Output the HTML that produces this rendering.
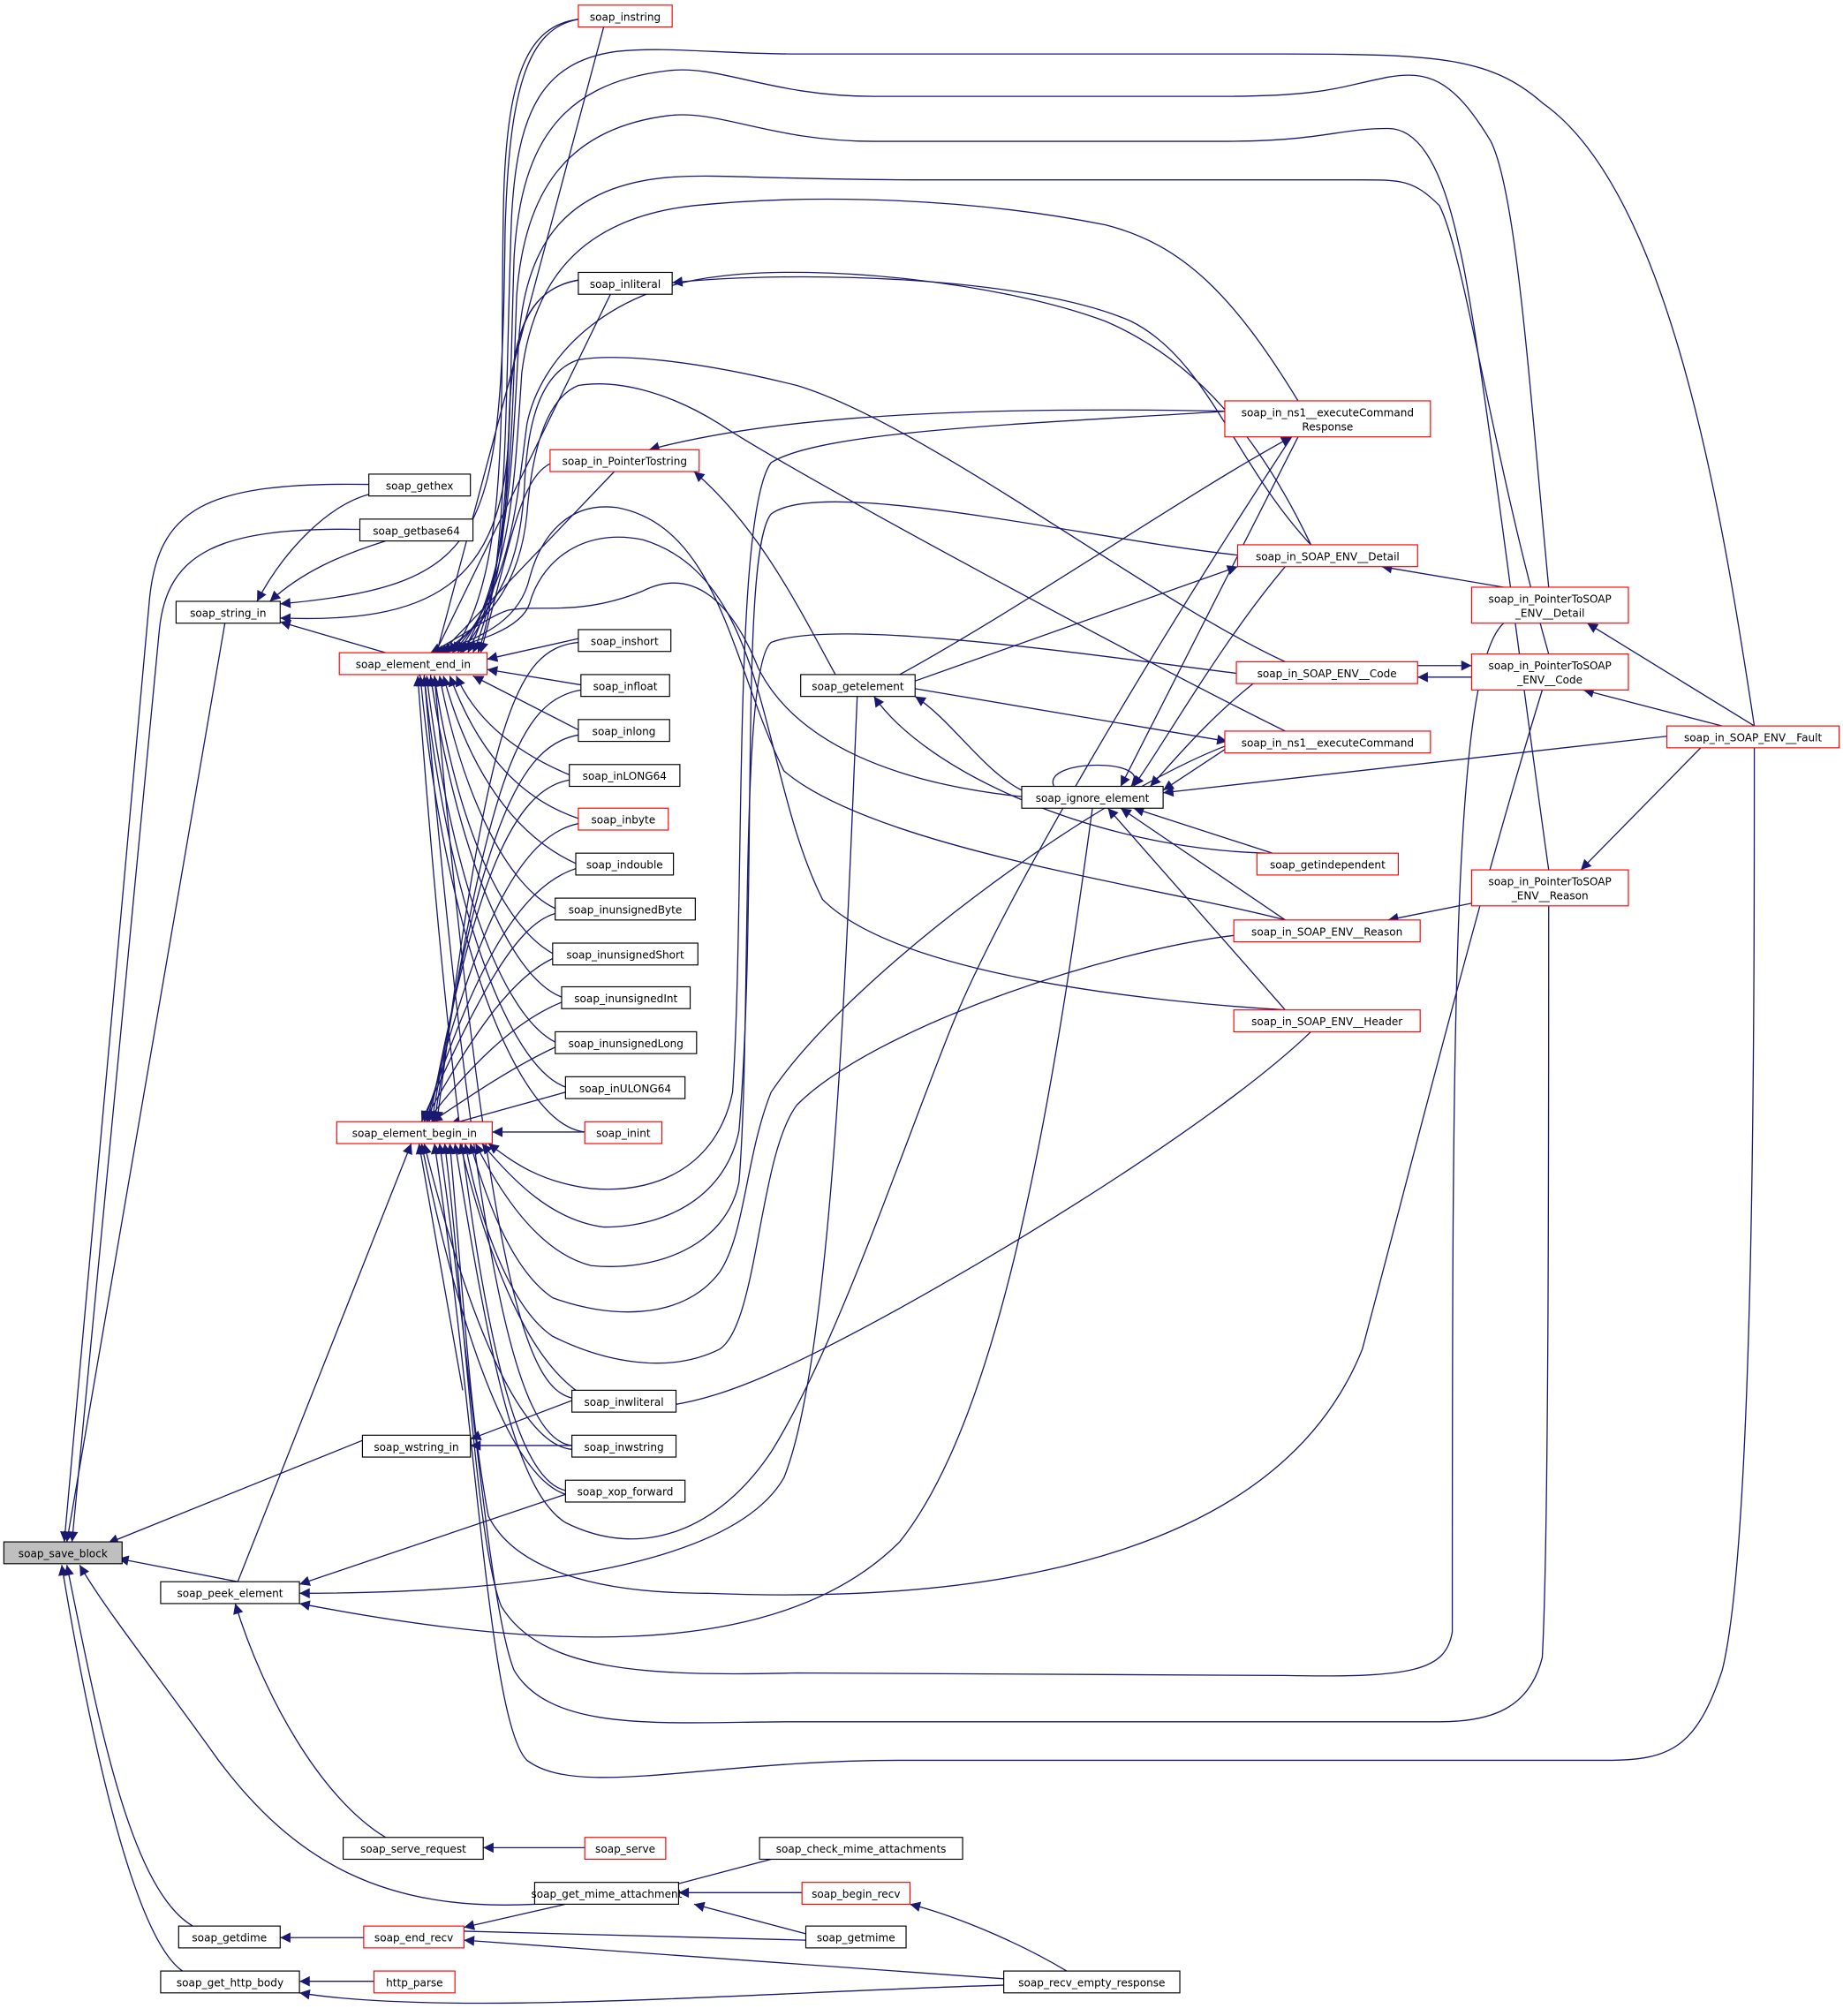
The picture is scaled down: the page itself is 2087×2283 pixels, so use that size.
<!DOCTYPE html>
<html><head><meta charset="utf-8"><style>
html,body{margin:0;padding:0;background:#fff;}
svg{display:block}
text{font-family:"DejaVu Sans","Liberation Sans",sans-serif;font-size:8.3px;fill:#000;text-anchor:middle}
.e{fill:none;stroke:#191970;stroke-width:0.9}
.n{fill:#fff;stroke:#000;stroke-width:0.8}
.r{fill:#fff;stroke:#f00;stroke-width:0.8}
</style></head><body>
<svg width="2087" height="2283" viewBox="0 0 1434 1569" preserveAspectRatio="none" xmlns="http://www.w3.org/2000/svg">
<defs><marker id="a" viewBox="0 0 10 10" refX="10" refY="5" markerWidth="10" markerHeight="8" markerUnits="userSpaceOnUse" orient="auto"><path d="M0,0 L10,5 L0,10 z" fill="#191970"/></marker></defs>
<g class="e" marker-end="url(#a)">
<path d="M175,485 L52,1200"/>
<path d="M287,377 C160,375 122,395 116,470 L50,1200"/>
<path d="M280,412 C170,410 130,430 124,490 L56,1200"/>
<path d="M292,1117 L84,1201"/>
<path d="M185,1231 L92,1213"/>
<path d="M416,1482 C300,1488 230,1450 170,1370 C120,1300 80,1250 62,1218"/>
<path d="M150,1499 C100,1470 75,1330 52,1218"/>
<path d="M142,1534 C100,1505 65,1320 48,1218"/>
<path d="M290,384 C255,392 220,430 200,468"/>
<path d="M300,421 C265,432 235,445 210,468"/>
<path d="M450,15 C410,22 396,70 393,180 C390,420 380,455 218,470"/>
<path d="M450,218 C410,225 398,260 396,330 C394,460 330,485 218,481"/>
<path d="M300,508 L218,484"/>
<path d="M1365,565 C1340,400 1300,150 1200,80 C1160,45 1120,42 1000,42 L620,42 C560,42 520,36 480,40 C420,48 402,90 398,170 C393,300 396,440 372,508"/>
<path d="M1205,457 C1190,300 1180,150 1160,110 C1130,60 1110,55 1080,60 C1040,68 1030,75 950,75 L680,75 C600,75 560,50 520,55 C430,65 405,120 400,200 C396,320 398,440 368,508"/>
<path d="M1205,677 C1180,500 1150,250 1135,190 C1120,120 1100,100 1080,100 C1040,100 1030,110 950,110 L680,110 C600,110 560,85 520,90 C440,100 408,150 402,230 C398,340 398,440 364,508"/>
<path d="M1205,509 C1160,350 1140,200 1120,160 C1100,140 1090,140 1060,140 L720,140 C600,140 560,135 520,138 C440,145 410,190 404,260 C398,360 398,440 360,508"/>
<path d="M1010,312 C960,230 920,190 860,175 C760,155 640,150 540,160 C450,170 415,220 406,290 C400,380 398,450 356,508"/>
<path d="M1020,424 C980,340 930,280 860,250 C780,220 640,205 560,215 C470,225 420,280 410,330 C402,390 398,460 352,508"/>
<path d="M1000,515 C900,470 720,330 620,300 C540,280 480,275 450,280 C420,290 410,330 408,380 C404,440 390,470 348,508"/>
<path d="M1000,569 C900,520 620,370 560,330 C520,305 480,295 450,300 C425,310 414,350 410,400 C405,450 385,480 344,508"/>
<path d="M1000,716 C900,690 680,660 610,600 C570,520 560,410 480,395 C440,390 420,420 412,450 C405,480 380,495 340,508"/>
<path d="M1000,786 C900,780 700,760 640,700 C590,600 600,450 500,420 C450,410 420,440 412,470 C405,490 370,500 337,508"/>
<path d="M795,620 C700,610 620,580 590,520 C570,470 540,440 500,460 C450,480 420,470 395,475 C380,480 360,495 335,508"/>
<path d="M450,15 C410,20 395,60 392,150 C388,300 400,440 352,508"/>
<path d="M450,218 C410,225 400,260 397,310 C393,420 392,470 358,508"/>
<path d="M430,360 C405,370 398,420 374,508"/>
<path d="M450,497 L379,513"/>
<path d="M452,533 L379,521"/>
<path d="M450,568 L368,526"/>
<path d="M443,603 C400,585 370,560 355,526"/>
<path d="M450,637 C400,620 370,580 350,526"/>
<path d="M448,672 C400,650 365,600 345,526"/>
<path d="M432,707 C395,690 360,620 342,526"/>
<path d="M430,742 C390,720 355,640 338,526"/>
<path d="M437,776 C395,760 355,660 335,526"/>
<path d="M432,811 C390,790 350,680 332,526"/>
<path d="M440,846 C395,830 348,700 330,526"/>
<path d="M455,881 C400,875 345,720 327,526"/>
<path d="M445,1088 C410,1080 380,1000 338,526"/>
<path d="M445,1125 C400,1120 370,980 330,526"/>
<path d="M440,1160 C395,1150 360,1000 325,526"/>
<path d="M470,20 L335,526"/>
<path d="M475,229 L330,526"/>
<path d="M478,367 L326,526"/>
<path d="M450,500 C400,505 380,560 340,873"/>
<path d="M452,537 C405,545 380,600 338,873"/>
<path d="M450,572 C405,580 375,640 336,873"/>
<path d="M443,607 C400,615 370,680 334,873"/>
<path d="M450,641 C405,650 370,720 332,873"/>
<path d="M448,676 C405,690 370,750 330,873"/>
<path d="M432,711 C400,720 370,780 328,873"/>
<path d="M430,746 C400,760 370,800 330,873"/>
<path d="M437,780 C400,795 365,830 332,873"/>
<path d="M432,815 C400,830 370,850 336,873"/>
<path d="M440,850 L350,875"/>
<path d="M455,881 L383,881"/>
<path d="M360,1082 L326,890"/>
<path d="M445,1128 C410,1125 370,1050 330,890"/>
<path d="M440,1163 C400,1150 360,1050 328,890"/>
<path d="M185,1231 L320,890"/>
<path d="M955,320 C800,330 640,335 600,360 C570,400 580,700 570,850 C560,900 520,930 460,925 C420,920 400,905 380,890"/>
<path d="M963,432 C850,420 640,370 600,400 C575,430 590,700 575,880 C565,930 520,955 470,955 C430,950 400,920 375,890"/>
<path d="M962,524 C850,510 650,480 600,500 C575,520 585,800 575,920 C565,970 510,990 460,985 C420,975 390,930 370,890"/>
<path d="M955,580 C850,620 660,760 600,850 C580,900 580,960 560,990 C530,1030 470,1025 430,1010 C400,990 380,940 366,890"/>
<path d="M960,728 C860,740 680,800 620,860 C590,900 590,1030 560,1050 C520,1070 470,1060 430,1040 C400,1020 375,960 362,890"/>
<path d="M1020,803 C940,880 740,1000 640,1050 C580,1080 530,1100 480,1095 C430,1090 390,1020 358,890"/>
<path d="M1005,340 C900,500 780,700 740,800 C700,900 650,1050 600,1130 C560,1190 500,1215 440,1185 C400,1160 380,1050 354,890"/>
<path d="M1200,537 C1150,700 1100,900 1060,1050 C1000,1200 800,1250 550,1240 C460,1240 400,1220 380,1180 C365,1100 360,1000 350,890"/>
<path d="M1170,485 C1130,520 1130,800 1130,1270 C1125,1300 1100,1306 1000,1304 L620,1302 C500,1305 420,1300 390,1250 C370,1200 360,1000 346,890"/>
<path d="M1205,705 C1205,900 1205,1200 1200,1290 C1190,1330 1160,1340 1120,1340 L620,1340 C520,1340 430,1350 400,1300 C380,1250 365,1050 342,890"/>
<path d="M1365,582 C1365,800 1365,1200 1340,1300 C1320,1360 1300,1370 1250,1370 L700,1370 C550,1370 450,1400 410,1370 C380,1340 370,1100 338,890"/>
<path d="M650,525 C620,470 590,410 540,367"/>
<path d="M955,320 C700,315 580,330 505,350"/>
<path d="M1020,424 C960,360 940,280 880,250 C800,215 620,210 523,220"/>
<path d="M795,615 C765,600 740,560 712,542"/>
<path d="M985,664 C850,660 720,600 680,542"/>
<path d="M700,525 C800,470 930,380 1005,340"/>
<path d="M712,530 L963,441"/>
<path d="M712,536 L955,577"/>
<path d="M1297,573 L905,617"/>
<path d="M955,582 L905,615"/>
<path d="M975,532 C940,560 915,590 895,612"/>
<path d="M1000,441 C950,500 905,580 882,612"/>
<path d="M1010,340 L872,612"/>
<path d="M990,664 L882,629"/>
<path d="M1000,716 L872,629"/>
<path d="M1000,786 L862,629"/>
<path d="M820,612 C810,590 900,590 880,612"/>
<path d="M1170,457 L1075,441"/>
<path d="M1145,527 L1103,527"/>
<path d="M1103,518 C1115,518 1130,518 1145,518"/>
<path d="M1365,565 L1235,485"/>
<path d="M1340,565 L1232,537"/>
<path d="M1340,565 L1230,677"/>
<path d="M1145,703 L1080,716"/>
<path d="M440,1163 L233,1233"/>
<path d="M850,629 C820,850 780,1100 700,1200 C600,1300 400,1280 233,1248"/>
<path d="M667,542 C660,700 650,1050 610,1150 C570,1220 400,1240 233,1240"/>
<path d="M300,1430 C250,1400 205,1320 183,1248"/>
<path d="M455,1438 L376,1438"/>
<path d="M600,1447 L528,1466" marker-end="none"/>
<path d="M624,1473 L528,1473"/>
<path d="M627,1505 L540,1482"/>
<path d="M440,1482 L361,1500"/>
<path d="M361,1503 L627,1510" marker-end="none"/>
<path d="M781,1540 L361,1510"/>
<path d="M830,1534 C790,1510 740,1490 708,1482"/>
<path d="M283,1508 L218,1508"/>
<path d="M291,1542 L233,1542"/>
<path d="M781,1545 C600,1550 350,1570 233,1551"/>
<path d="M445,1090 L366,1120"/>
<path d="M445,1125 L366,1125"/>
</g>
<g>
<rect x="3" y="1200" width="92" height="17" fill="#bfbfbf" stroke="#000" stroke-width="0.8"/><text x="49" y="1212">soap_save_block</text>
<rect class="n" x="137" y="468" width="81" height="17"/><text x="177.5" y="480">soap_string_in</text>
<rect class="r" x="264" y="508" width="115" height="17"/><text x="321.5" y="520">soap_element_end_in</text>
<rect class="r" x="262" y="873" width="121" height="17"/><text x="322.5" y="885">soap_element_begin_in</text>
<rect class="n" x="282" y="1117" width="84" height="17"/><text x="324" y="1129">soap_wstring_in</text>
<rect class="n" x="125" y="1231" width="108" height="17"/><text x="179" y="1243">soap_peek_element</text>
<rect class="n" x="267" y="1430" width="109" height="17"/><text x="321.5" y="1442">soap_serve_request</text>
<rect class="n" x="139" y="1499" width="79" height="17"/><text x="178.5" y="1511">soap_getdime</text>
<rect class="n" x="125" y="1534" width="108" height="17"/><text x="179" y="1546">soap_get_http_body</text>
<rect class="n" x="287" y="369" width="79" height="17"/><text x="326.5" y="381">soap_gethex</text>
<rect class="n" x="280" y="404" width="88" height="17"/><text x="324" y="416">soap_getbase64</text>
<rect class="r" x="450" y="4" width="73" height="17"/><text x="486.5" y="16">soap_instring</text>
<rect class="n" x="450" y="212" width="73" height="17"/><text x="486.5" y="224">soap_inliteral</text>
<rect class="r" x="428" y="350" width="116" height="17"/><text x="486" y="362">soap_in_PointerTostring</text>
<rect class="n" x="450" y="490" width="72" height="17"/><text x="486" y="502">soap_inshort</text>
<rect class="n" x="452" y="525" width="69" height="17"/><text x="486.5" y="537">soap_infloat</text>
<rect class="n" x="450" y="560" width="71" height="17"/><text x="485.5" y="572">soap_inlong</text>
<rect class="n" x="443" y="595" width="86" height="17"/><text x="486" y="607">soap_inLONG64</text>
<rect class="r" x="450" y="629" width="70" height="17"/><text x="485" y="641">soap_inbyte</text>
<rect class="n" x="448" y="664" width="76" height="17"/><text x="486" y="676">soap_indouble</text>
<rect class="n" x="432" y="699" width="109" height="17"/><text x="486.5" y="711">soap_inunsignedByte</text>
<rect class="n" x="430" y="734" width="113" height="17"/><text x="486.5" y="746">soap_inunsignedShort</text>
<rect class="n" x="437" y="768" width="100" height="17"/><text x="487" y="780">soap_inunsignedInt</text>
<rect class="n" x="432" y="803" width="110" height="17"/><text x="487" y="815">soap_inunsignedLong</text>
<rect class="n" x="440" y="838" width="93" height="17"/><text x="486.5" y="850">soap_inULONG64</text>
<rect class="r" x="455" y="873" width="60" height="17"/><text x="485" y="885">soap_inint</text>
<rect class="n" x="445" y="1082" width="81" height="17"/><text x="485.5" y="1094">soap_inwliteral</text>
<rect class="n" x="445" y="1117" width="81" height="17"/><text x="485.5" y="1129">soap_inwstring</text>
<rect class="n" x="440" y="1152" width="93" height="17"/><text x="486.5" y="1164">soap_xop_forward</text>
<rect class="r" x="455" y="1430" width="63" height="17"/><text x="486.5" y="1442">soap_serve</text>
<rect class="n" x="416" y="1465" width="112" height="17"/><text x="472" y="1477">soap_get_mime_attachment</text>
<rect class="r" x="283" y="1499" width="78" height="17"/><text x="322" y="1511">soap_end_recv</text>
<rect class="r" x="291" y="1534" width="63" height="17"/><text x="322.5" y="1546">http_parse</text>
<rect class="n" x="623" y="525" width="89" height="17"/><text x="667.5" y="537">soap_getelement</text>
<rect class="n" x="795" y="612" width="110" height="17"/><text x="850" y="624">soap_ignore_element</text>
<rect class="n" x="591" y="1430" width="158" height="17"/><text x="670" y="1442">soap_check_mime_attachments</text>
<rect class="r" x="624" y="1465" width="84" height="17"/><text x="666" y="1477">soap_begin_recv</text>
<rect class="n" x="627" y="1499" width="78" height="17"/><text x="666" y="1511">soap_getmime</text>
<rect class="n" x="781" y="1534" width="137" height="17"/><text x="849.5" y="1546">soap_recv_empty_response</text>
<rect class="r" x="953" y="312" width="160" height="28"/><text x="1033" y="324">soap_in_ns1__executeCommand</text><text x="1033" y="335">Response</text>
<rect class="r" x="963" y="424" width="140" height="17"/><text x="1033" y="436">soap_in_SOAP_ENV__Detail</text>
<rect class="r" x="962" y="515" width="141" height="17"/><text x="1032.5" y="527">soap_in_SOAP_ENV__Code</text>
<rect class="r" x="953" y="569" width="160" height="17"/><text x="1033" y="581">soap_in_ns1__executeCommand</text>
<rect class="r" x="978" y="664" width="110" height="17"/><text x="1033" y="676">soap_getindependent</text>
<rect class="r" x="960" y="716" width="145" height="17"/><text x="1032.5" y="728">soap_in_SOAP_ENV__Reason</text>
<rect class="r" x="960" y="786" width="145" height="17"/><text x="1032.5" y="798">soap_in_SOAP_ENV__Header</text>
<rect class="r" x="1145" y="457" width="122" height="28"/><text x="1206" y="469">soap_in_PointerToSOAP</text><text x="1206" y="480">_ENV__Detail</text>
<rect class="r" x="1145" y="509" width="122" height="28"/><text x="1206" y="521">soap_in_PointerToSOAP</text><text x="1206" y="532">_ENV__Code</text>
<rect class="r" x="1145" y="677" width="122" height="28"/><text x="1206" y="689">soap_in_PointerToSOAP</text><text x="1206" y="700">_ENV__Reason</text>
<rect class="r" x="1297" y="565" width="134" height="17"/><text x="1364" y="577">soap_in_SOAP_ENV__Fault</text>
</g>
</svg>
</body></html>
